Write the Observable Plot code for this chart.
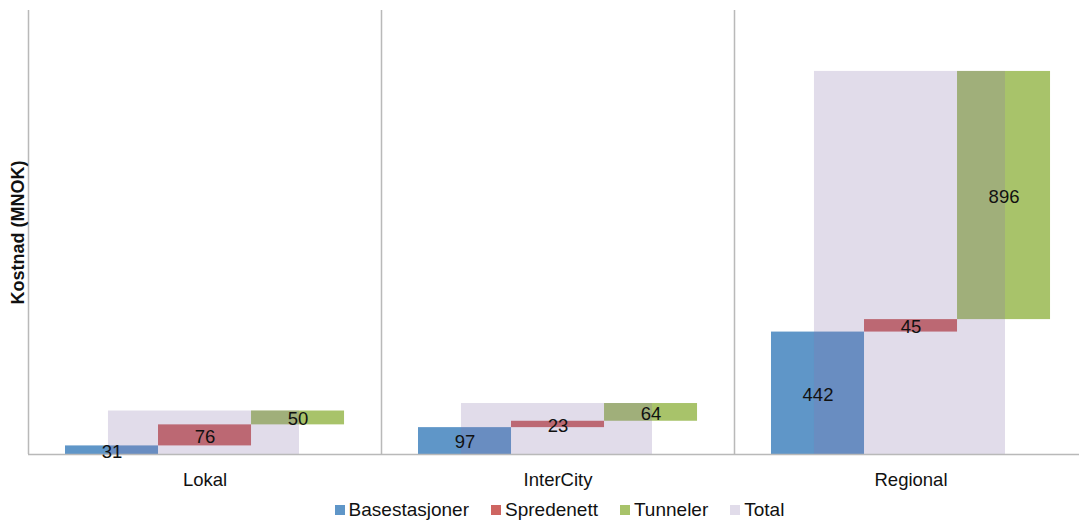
<!DOCTYPE html>
<html>
<head>
<meta charset="utf-8">
<script src="https://cdn.jsdelivr.net/npm/d3@7"></script>
<script src="https://cdn.jsdelivr.net/npm/@observablehq/plot@0.6"></script>
<style>
  html, body { margin: 0; padding: 0; background: #fff; }
  body { width: 1079px; height: 521px; overflow: hidden; font-family: "Liberation Sans", Arial, sans-serif; }
  #legend { display: flex; justify-content: center; align-items: center; gap: 22px; height: 24px; margin-left: 40px; padding-top: 3px; font-size: 19px; color: #111; }
  #legend .item { display: flex; align-items: center; gap: 4px; }
  #legend .sw { width: 10px; height: 10px; display: inline-block; }
</style>
</head>
<body>
<div id="chart"></div>
<div id="legend"></div>
<script>
// ---- data ----
const categories = ["Lokal", "InterCity", "Regional"];
const components = ["Basestasjoner", "Spredenett", "Tunneler"];
const basestasjoner = [31, 97, 442];
const spredenett = [76, 23, 45];
const tunneler = [50, 64, 896];
const legendLabels = ["Basestasjoner", "Spredenett", "Tunneler", "Total"];

// ---- styling ----
const colors = {Basestasjoner: "#5f96c8", Spredenett: "#ce6561", Tunneler: "#a8c36a", Total: "#8773ab"};
const totalOpacity = 0.25;
const slotStart = 0.1048, slotWidth = 0.2635;   // within each category band (units of one category)
const totalStart = 0.2266, totalEnd = 0.7677;

// ---- build table ----
const series = [basestasjoner, spredenett, tunneler];
const steps = [];
const totals = [];
categories.forEach((cat, i) => {
  let cum = 0;
  components.forEach((comp, j) => {
    const v = series[j][i];
    steps.push({cat, comp, i, j, value: v, y1: cum, y2: cum + v,
      x1: i + slotStart + j * slotWidth, x2: i + slotStart + (j + 1) * slotWidth});
    cum += v;
  });
  totals.push({cat, i, value: cum, x1: i + totalStart, x2: i + totalEnd});
});

const gridColor = "#b9b9b9";

const plot = Plot.plot({
  width: 1079,
  height: 495,
  marginLeft: 28,
  marginRight: 0,
  marginTop: 10,
  marginBottom: 41,
  style: {fontFamily: "'Liberation Sans', Arial, sans-serif", fontSize: "18.5px", background: "#fff", color: "#111"},
  x: {domain: [0, categories.length], range: [28, 1087]},
  y: {domain: [0, 1603], axis: null},
  marks: [
    Plot.rect(steps, {x1: "x1", x2: "x2", y1: "y1", y2: "y2", fill: d => colors[d.comp]}),
    Plot.rect(totals, {x1: "x1", x2: "x2", y1: 0, y2: "value", fill: colors.Total, fillOpacity: totalOpacity}),
    Plot.ruleX(d3.range(categories.length + 1), {stroke: gridColor, strokeWidth: 1.5}),
    Plot.ruleY([0], {stroke: gridColor, strokeWidth: 1.5}),
    Plot.text(steps, {x: d => (d.x1 + d.x2) / 2, y: d => (d.y1 + d.y2) / 2, text: d => String(d.value),
      fill: "#111", fontSize: 18.5, dy: 1.5}),
    Plot.axisX(categories.map((c, i) => i + 0.5), {tickFormat: d => categories[Math.floor(d)], tickSize: 0,
      tickPadding: 18, fontSize: 18.5, label: null}),
    Plot.text(["Kostnad (MNOK)"], {frameAnchor: "left", textAnchor: "middle", rotate: -90, dx: -10,
      fontWeight: "bold", fontSize: 18, fill: "#111"})
  ]
});
document.getElementById("chart").appendChild(plot);

// ---- legend ----
const legend = d3.select("#legend");
legendLabels.forEach(name => {
  const item = legend.append("div").attr("class", "item");
  item.append("span").attr("class", "sw")
    .style("background", name === "Total" ? "#e1dcea" : colors[name]);
  item.append("span").text(name);
});
</script>
</body>
</html>
